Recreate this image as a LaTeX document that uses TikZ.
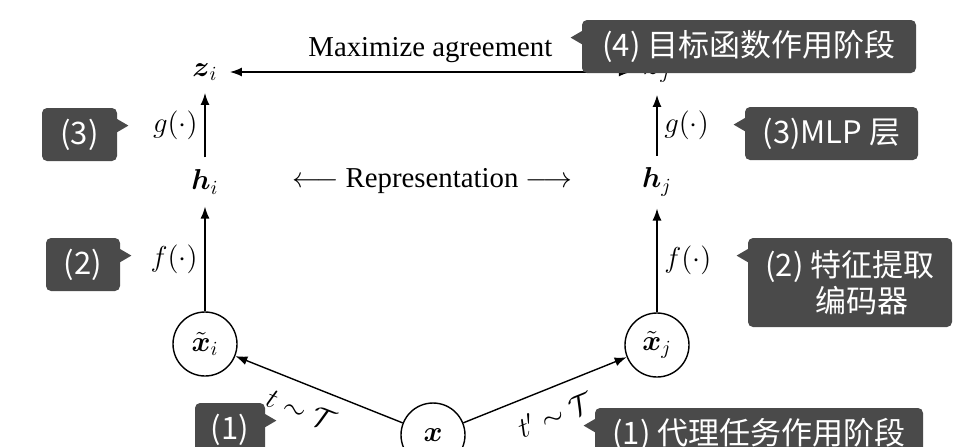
\documentclass[tikz,border=0pt]{standalone}
\usepackage{amsmath}
\usepackage{fontspec}
\setmainfont{Liberation Serif}
\newfontfamily\cjk{Noto Sans CJK SC}
\usetikzlibrary{arrows.meta, calc, positioning}
\definecolor{tagfill}{HTML}{4A4A4A}
\newcommand{\vb}[1]{\boldsymbol{#1}}

\begin{document}
\begin{tikzpicture}[x=0.5pt, y=-0.5pt,
  every node/.style = {font=\fontsize{14.4}{17}\selectfont},
  var/.style        = {inner sep=6pt},
  ring/.style       = {draw, circle, line width=0.7pt, minimum size=32pt, inner sep=0pt},
  flow/.style       = {-{Latex[length=6pt, width=4.5pt]}, line width=0.7pt},
  both/.style       = {{Latex[length=6pt, width=4.5pt]}-{Latex[length=6pt, width=4.5pt]}, line width=0.7pt},
  tagbox/.style     = {fill=tagfill, text=white, rounded corners=2.5pt, align=center,
                       minimum height=26.5pt, inner sep=2pt,
                       font=\cjk\fontsize{15.5}{18}\selectfont},
  tagtip/.style     = {fill=tagfill},
]
  \useasboundingbox (0,0) rectangle (958,446);
  \clip (0,0) rectangle (958,446);

  % ------------------------------------------------------------ left branch
  \node[var]  (zi) at (205,72)  {$\vb{z}_i$};
  \node[var]  (hi) at (205,182) {$\vb{h}_i$};
  \node[ring] (xi) at (205,344) {$\tilde{\vb{x}}_i$};

  % ----------------------------------------------------------- right branch
  \node[var]  (zj) at (657,72)  {$\vb{z}_j$};
  \node[var]  (hj) at (657,182) {$\vb{h}_j$};
  \node[ring] (xj) at (657,345) {$\tilde{\vb{x}}_j$};

  % ------------------------------------------------------------------ input
  \node[ring] (x) at (433,435) {$\vb{x}$};
  \node (rep) at (432,181) {$\longleftarrow$ Representation $\longrightarrow$};

  % ---------------------------------------------------------------- linkage
  \draw[flow] (x) -- node[sloped, below=4pt, pos=0.55] {$t\sim\mathcal{T}$} (xi);
  \draw[flow] (x) -- node[sloped, below=4pt, pos=0.5] {$t'\sim\mathcal{T}$} (xj);
  \draw[flow] (xi) -- node[left]  {$f(\cdot)$} (hi);
  \draw[flow] (hi) -- node[left]  {$g(\cdot)$} (zi);
  \draw[flow] (xj) -- node[right] {$f(\cdot)$} (hj);
  \draw[flow] (hj) -- node[right] {$g(\cdot)$} (zj);
  \draw[both] (zi) -- node[above=1pt] {Maximize agreement} (zj);

  % --------------------------------------------------------------- callouts
  \node[tagbox, minimum width=37.5pt] (t3) at (79.5,134.5) {(3)};
  \fill[tagtip] ($(t3.north east)+(-1,11)$) -- ++(12,7) -- ++(-12,7) -- cycle;
  \node[tagbox, minimum width=37pt] (t2) at (83,264.5) {(2)};
  \fill[tagtip] ($(t2.north east)+(-1,11)$) -- ++(12,7) -- ++(-12,7) -- cycle;
  \node[tagbox, minimum width=35pt] (t1) at (230,429.5) {(1)};
  \fill[tagtip] ($(t1.north east)+(-1,11)$) -- ++(12,7) -- ++(-12,7) -- cycle;

  \node[tagbox, minimum width=167pt] (t4r) at (749,46.5) {(4) 目标函数作用阶段};
  \fill[tagtip] ($(t4r.north west)+(1,11)$) -- ++(-12,7) -- ++(12,7) -- cycle;
  \node[tagbox, minimum width=86.5pt] (t3r) at (831.5,133.5) {(3)MLP 层};
  \fill[tagtip] ($(t3r.north west)+(1,11)$) -- ++(-12,7) -- ++(12,7) -- cycle;
  \node[tagbox, minimum width=102pt, minimum height=44.5pt] (t2r) at (850,282.5)
        {(2) 特征提取\\\hspace*{0.8em}编码器};
  \fill[tagtip] ($(t2r.north west)+(1,11)$) -- ++(-12,7) -- ++(12,7) -- cycle;
  \node[tagbox, minimum width=164pt] (t1r) at (759,434.5) {(1) 代理任务作用阶段};
  \fill[tagtip] ($(t1r.north west)+(1,11)$) -- ++(-12,7) -- ++(12,7) -- cycle;

\end{tikzpicture}
\end{document}
